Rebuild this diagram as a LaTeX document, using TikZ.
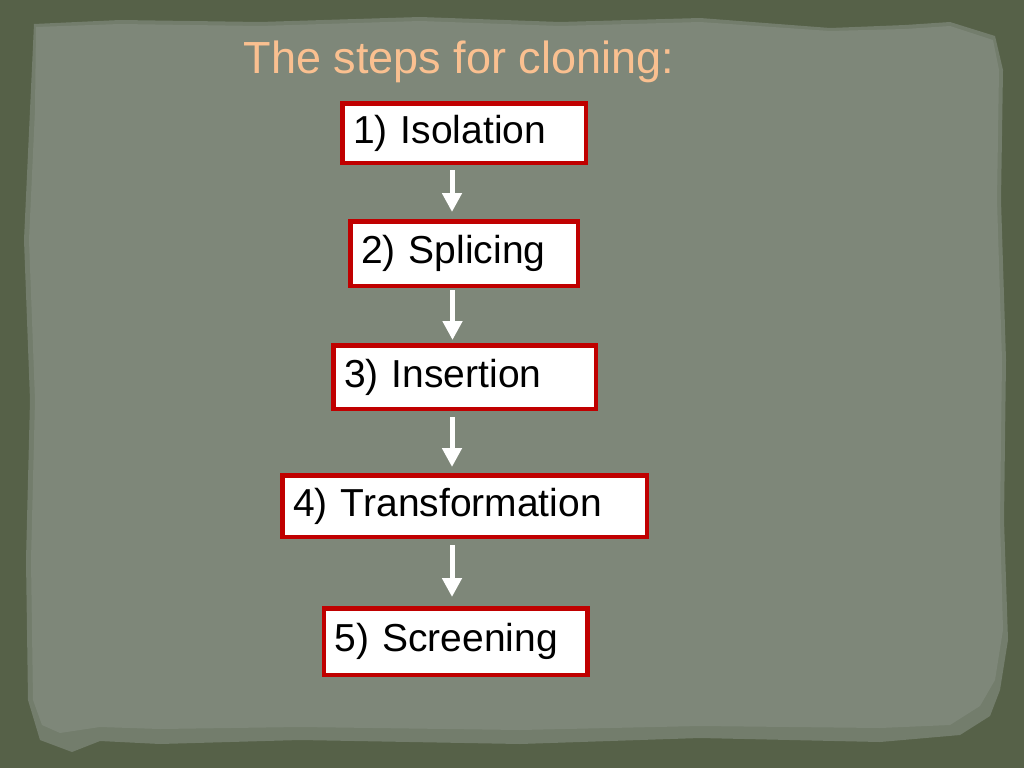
\documentclass[tikz,border=0pt]{standalone}
\usepackage{fontspec}
\setmainfont{Liberation Sans}
\usepackage{tikz}
\usetikzlibrary{arrows.meta,positioning}
\definecolor{olive}{HTML}{566148}
\definecolor{paper}{HTML}{7E8779}
\definecolor{paperedge}{HTML}{737D6C}
\definecolor{boxred}{HTML}{C00000}
\definecolor{peach}{HTML}{FAC090}
\tikzset{
stepbox/.style={draw=boxred,line width=4.5pt,fill=white,align=left,inner xsep=11pt,
  font=\fontsize{39}{44}\selectfont},
flowarrow/.style={draw=white,line width=5pt,-{Triangle[width=19pt,length=19pt]}}
}
\begin{document}
\begin{tikzpicture}[x=1pt,y=-1pt]
\fill[olive] (0,0) rectangle (1024,768);
\useasboundingbox (0,0) rectangle (1024,768);
% torn paper
\fill[paperedge] (34,24) -- (120,20) -- (260,22) -- (420,17) -- (560,22) -- (700,18) -- (830,28)
  -- (905,25) -- (950,22) -- (995,36) -- (1003,70) -- (1001,200) -- (1006,360) -- (1004,520)
  -- (1008,640) -- (1000,690) -- (990,716) -- (960,735) -- (880,742) -- (700,738) -- (520,744)
  -- (300,740) -- (160,744) -- (100,741) -- (72,752) -- (40,740) -- (28,700) -- (26,560)
  -- (30,400) -- (24,240) -- (30,110) -- cycle;
\fill[paper] (36,27) -- (120,24) -- (260,26) -- (420,21) -- (560,26) -- (700,22) -- (830,31)
  -- (905,29) -- (950,26) -- (993,40) -- (999,70) -- (997,200) -- (1002,360) -- (1000,520)
  -- (1003,630) -- (995,680) -- (980,706) -- (950,725) -- (880,728) -- (700,726) -- (520,730)
  -- (300,727) -- (160,729) -- (100,727) -- (60,733) -- (42,725) -- (33,700) -- (31,560)
  -- (35,400) -- (29,240) -- (35,110) -- cycle;

\node[font=\fontsize{45}{50}\selectfont,text=peach,anchor=base west] (title) at (240,74) {The steps for cloning:};

\node[stepbox,text width=221.5pt,minimum height=59.5pt] (isolation) at (464,133) {1) Isolation};
\node[stepbox,text width=205.5pt,minimum height=64.5pt] (splicing) at (464,253.5) {2) Splicing};
\node[stepbox,text width=240.5pt,minimum height=63.5pt] (insertion) at (464.5,377) {3) Insertion};
\node[stepbox,text width=342.5pt,minimum height=61.5pt] (transformation) at (464.5,506) {4) Transformation};
\node[stepbox,text width=241.5pt,minimum height=66.5pt] (screening) at (455.5,641.5) {5) Screening};

\draw[flowarrow] ([xshift=-12pt,yshift=-5pt]isolation.south) -- ([xshift=-12pt,yshift=7pt]splicing.north);
\draw[flowarrow] ([xshift=-11.5pt,yshift=-2pt]splicing.south) -- ([xshift=-12pt,yshift=3pt]insertion.north);
\draw[flowarrow] ([xshift=-12.5pt,yshift=-6pt]insertion.south) -- ([xshift=-12.5pt,yshift=6pt]transformation.north);
\draw[flowarrow] ([xshift=-12.5pt,yshift=-6pt]transformation.south) -- ([xshift=-3.5pt,yshift=9pt]screening.north);
\end{tikzpicture}
\end{document}
